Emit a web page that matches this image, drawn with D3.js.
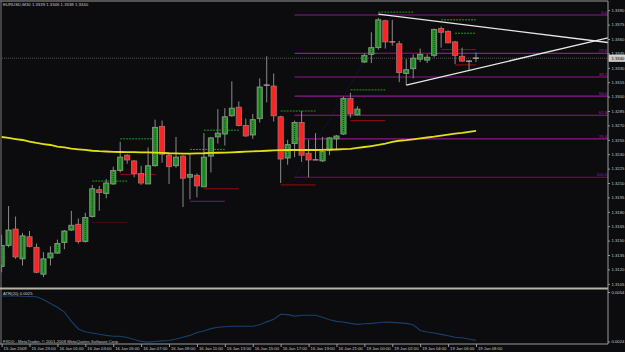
<!DOCTYPE html>
<html>
<head>
<meta charset="utf-8">
<script src="https://cdn.jsdelivr.net/npm/d3@7"></script>
<style>
body { margin: 0; background: #0c0c0f; }
svg { display: block; font-family: "Liberation Sans", Arial, sans-serif; }
</style>
</head>
<body>
<svg id="chart" width="625" height="352"></svg>
<script>
'use strict';

var HEADER = 'EURUSD,M30  1.3339 1.3346 1.3338 1.3340';
var ATR_TITLE = 'ATR(20) 0.0025';
var FOOTER = 'FXDD - MetaTrader, \u00a9 2001-2008 MetaQuotes Software Corp.';

var opens = [1.3123, 1.3145, 1.3162, 1.3131, 1.3154, 1.3143, 1.3115, 1.3132, 1.3137, 1.3148,
    1.3161, 1.3167, 1.3149, 1.3175, 1.3203, 1.3199, 1.3209, 1.3223, 1.3239, 1.3233,
    1.3220, 1.3209, 1.3228, 1.3269, 1.3239, 1.3228, 1.3238, 1.3216, 1.3218, 1.3206,
    1.3238, 1.3258, 1.3261, 1.3280, 1.3289, 1.3270, 1.3260, 1.3277, 1.3312, 1.3311,
    1.3279, 1.3236, 1.3251, 1.3273, 1.3241, 1.3235, 1.3233, 1.3244, 1.3256, 1.3261,
    1.3298, 1.3281, 1.3336, 1.3344, 1.3351, 1.3379, 1.3358, 1.3355, 1.3324, 1.3329,
    1.3339, 1.3338, 1.3343, 1.3371, 1.3368, 1.3357, 1.3342, 1.3337, 1.3339];
var highs = [1.3156, 1.3186, 1.3175, 1.3158, 1.3160, 1.3147, 1.3138, 1.3144, 1.3151, 1.3161,
    1.3181, 1.3173, 1.3179, 1.3208, 1.3207, 1.3214, 1.3227, 1.3253, 1.3240, 1.3234,
    1.3228, 1.3247, 1.3276, 1.3275, 1.3241, 1.3258, 1.3239, 1.3240, 1.3220, 1.3262,
    1.3258, 1.3287, 1.3288, 1.3316, 1.3295, 1.3277, 1.3282, 1.3319, 1.3342, 1.3324,
    1.3280, 1.3255, 1.3275, 1.3285, 1.3255, 1.3262, 1.3258, 1.3258, 1.3260, 1.3300,
    1.3304, 1.3290, 1.3345, 1.3367, 1.3382, 1.3380, 1.3380, 1.3358, 1.3339, 1.3344,
    1.3350, 1.3344, 1.3371, 1.3373, 1.3369, 1.3358, 1.3351, 1.3338, 1.3346];
var lows = [1.3117, 1.3143, 1.3131, 1.3124, 1.3143, 1.3116, 1.3112, 1.3124, 1.3136, 1.3141,
    1.3160, 1.3147, 1.3148, 1.3174, 1.3181, 1.3194, 1.3208, 1.3221, 1.3230, 1.3216,
    1.3208, 1.3209, 1.3227, 1.3231, 1.3209, 1.3226, 1.3185, 1.3193, 1.3195, 1.3206,
    1.3221, 1.3251, 1.3249, 1.3279, 1.3269, 1.3258, 1.3256, 1.3273, 1.3294, 1.3274,
    1.3210, 1.3229, 1.3237, 1.3232, 1.3216, 1.3234, 1.3232, 1.3239, 1.3245, 1.3260,
    1.3278, 1.3280, 1.3335, 1.3335, 1.3349, 1.3350, 1.3353, 1.3315, 1.3312, 1.3319,
    1.3336, 1.3335, 1.3341, 1.3351, 1.3356, 1.3334, 1.3336, 1.3327, 1.3336];
var closes = [1.3145, 1.3161, 1.3133, 1.3155, 1.3144, 1.3117, 1.3131, 1.3137, 1.3147, 1.3160,
    1.3166, 1.3149, 1.3174, 1.3204, 1.3200, 1.3210, 1.3223, 1.3237, 1.3234, 1.3220,
    1.3210, 1.3228, 1.3268, 1.3240, 1.3227, 1.3237, 1.3215, 1.3219, 1.3207, 1.3237,
    1.3257, 1.3262, 1.3279, 1.3288, 1.3270, 1.3259, 1.3276, 1.3310, 1.3312, 1.3280,
    1.3235, 1.3250, 1.3273, 1.3239, 1.3234, 1.3234, 1.3243, 1.3257, 1.3259, 1.3298,
    1.3282, 1.3287, 1.3343, 1.3351, 1.3380, 1.3357, 1.3357, 1.3325, 1.3328, 1.3340,
    1.3344, 1.3341, 1.3370, 1.3367, 1.3356, 1.3343, 1.3337, 1.3337, 1.3340];

var maValues = [1.32579, 1.32569, 1.32558, 1.32548, 1.32532, 1.32517, 1.32506, 1.32496, 1.32480, 1.32470,
    1.32459, 1.32451, 1.32444, 1.32436, 1.32431, 1.32428, 1.32425, 1.32423, 1.32422, 1.32421,
    1.32420, 1.32418, 1.32416, 1.32413, 1.32410, 1.32409, 1.32407, 1.32407, 1.32409, 1.32410,
    1.32413, 1.32415, 1.32417, 1.32420, 1.32423, 1.32426, 1.32430, 1.32433, 1.32436, 1.32440,
    1.32442, 1.32444, 1.32444, 1.32444, 1.32444, 1.32444, 1.32446, 1.32447, 1.32449, 1.32452,
    1.32456, 1.32465, 1.32475, 1.32485, 1.32496, 1.32509, 1.32529, 1.32540, 1.32546, 1.32555,
    1.32564, 1.32574, 1.32583, 1.32594, 1.32604, 1.32615, 1.32623, 1.32633, 1.32642];

var atrValues = [0.00516, 0.00516, 0.00516, 0.00514, 0.00513, 0.00511, 0.00495, 0.00470, 0.00448, 0.00418,
    0.00362, 0.00316, 0.00299, 0.00292, 0.00284, 0.00277, 0.00272, 0.00272, 0.00264, 0.00252,
    0.00241, 0.00236, 0.00240, 0.00244, 0.00246, 0.00255, 0.00266, 0.00277, 0.00295, 0.00304,
    0.00318, 0.00326, 0.00329, 0.00332, 0.00332, 0.00332, 0.00332, 0.00341, 0.00359, 0.00375,
    0.00405, 0.00403, 0.00394, 0.00399, 0.00399, 0.00399, 0.00387, 0.00372, 0.00362, 0.00358,
    0.00350, 0.00344, 0.00348, 0.00350, 0.00354, 0.00358, 0.00356, 0.00353, 0.00350, 0.00341,
    0.00307, 0.00298, 0.00292, 0.00283, 0.00275, 0.00266, 0.00263, 0.00255, 0.00247];

var timeLabels = ['15 Jan 2009', '15 Jan 23:00', '16 Jan 01:00', '16 Jan 03:00', '16 Jan 05:00',
    '16 Jan 07:00', '16 Jan 09:00', '16 Jan 11:00', '16 Jan 13:00', '16 Jan 15:00', '16 Jan 17:00',
    '16 Jan 19:00', '16 Jan 21:00', '19 Jan 00:00', '19 Jan 02:00', '19 Jan 04:00', '19 Jan 06:00',
    '19 Jan 08:00'];
var priceTicks = [1.3390, 1.3375, 1.3360, 1.3345, 1.3330, 1.3315, 1.3300, 1.3285, 1.3270, 1.3255,
    1.3240, 1.3225, 1.3210, 1.3195, 1.3180, 1.3165, 1.3150, 1.3135, 1.3120, 1.3105];
var atrTicks = [0.0054, 0.0024];

var fibLevels = [0.0, 23.6, 38.2, 50.0, 61.8, 76.4, 100.0];
var fibHigh = 1.3385;
var fibLow = 1.3216;
var fibFromBar = 42;
var fibToBar = 56;

// [fromBar, toBar, price, kind]
var levelLines = [
    [17, 22, 1.3256, 'hi'], [17, 22, 1.3219, 'lo'],
    [13, 18, 1.3212, 'hi'], [13, 18, 1.3169, 'lo2'],
    [29, 34, 1.3265, 'hi'], [29, 34, 1.3204, 'lo'],
    [27, 32, 1.3245, 'hi'], [27, 32, 1.3191, 'mid'],
    [40, 45, 1.3285, 'hi'], [40, 45, 1.3208, 'lo'],
    [50, 55, 1.3307, 'hi'], [50, 55, 1.3275, 'lo'],
    [54, 59, 1.3388, 'hi'], [54, 61, 1.3345, 'lo'],
    [63, 68, 1.3380, 'hi'], [65, 68, 1.3366, 'hi'],
    [63, 68, 1.3349, 'lo'], [65, 68, 1.3333, 'lo']
];

// [bar1, price1, bar2, price2], drawn as rays
var trendLines = [
    [54, 1.3386, 64, 1.3377],
    [58, 1.3312, 68, 1.3329]
];

var LINE_STYLE = {
    hi: { color: '#14a014', dash: '2,1' },
    lo: { color: '#9a0a0a', dash: null },
    lo2: { color: '#6e1a14', dash: '1,1' },
    mid: { color: '#7a107a', dash: null }
};

var plotRight = 608;
var mainBottom = 287.5;
var atrBottom = 344;

var svg = d3.select('#chart');
svg.append('rect').attr('width', 625).attr('height', 352).attr('fill', '#0c0c0f');

var x = d3.scaleLinear().domain([0, opens.length - 1]).range([1.6, 476]);
var y = d3.scaleLinear().domain([1.3105, 1.3390]).range([283.8, 10.2]);
var ya = d3.scaleLinear().domain([0.0024, 0.0054]).range([341.5, 292]);

svg.append('clipPath').attr('id', 'mainclip')
    .append('rect').attr('x', 1).attr('y', 1).attr('width', plotRight - 1).attr('height', mainBottom - 1);

var main = svg.append('g').attr('clip-path', 'url(#mainclip)');

// bid line
main.append('line')
    .attr('x1', 0).attr('x2', plotRight)
    .attr('y1', y(closes[closes.length - 1])).attr('y2', y(closes[closes.length - 1]))
    .attr('stroke', '#555').attr('stroke-dasharray', '1,1');

// fibonacci levels
var fibRange = fibHigh - fibLow;
main.selectAll('line.fib').data(fibLevels).enter().append('line')
    .attr('class', 'fib')
    .attr('x1', x(fibFromBar)).attr('x2', plotRight)
    .attr('y1', function(d){ return y(fibHigh - d / 100 * fibRange); })
    .attr('y2', function(d){ return y(fibHigh - d / 100 * fibRange); })
    .attr('stroke', function(d){ return d === 100 ? '#5a1292' : '#8e168e'; })
    .attr('stroke-width', 1.2);

main.append('line')
    .attr('x1', x(fibFromBar)).attr('y1', y(fibLow))
    .attr('x2', x(fibToBar)).attr('y2', y(fibHigh))
    .attr('stroke', '#2a1456').attr('stroke-dasharray', '1,1.5');

svg.selectAll('text.fib').data(fibLevels).enter().append('text')
    .attr('class', 'fib')
    .attr('x', plotRight - 1)
    .attr('y', function(d){ return y(fibHigh - d / 100 * fibRange) - 1; })
    .attr('text-anchor', 'end')
    .attr('font-size', 4.2)
    .attr('fill', function(d){ return d === 100 ? '#7a2ab0' : '#a02aa0'; })
    .text(function(d){ return d.toFixed(1); });

// short level lines
main.selectAll('line.lvl').data(levelLines).enter().append('line')
    .attr('class', 'lvl')
    .attr('x1', function(d){ return x(d[0]); })
    .attr('x2', function(d){ return x(d[1]); })
    .attr('y1', function(d){ return y(d[2]); })
    .attr('y2', function(d){ return y(d[2]); })
    .attr('stroke', function(d){ return LINE_STYLE[d[3]].color; })
    .attr('stroke-dasharray', function(d){ return LINE_STYLE[d[3]].dash; });

// candles
var bars = opens.map(function(o, i){
    return { i: i, o: o, h: highs[i], l: lows[i], c: closes[i] };
});
var candle = main.selectAll('g.bar').data(bars).enter().append('g').attr('class', 'bar');

candle.append('line')
    .attr('x1', function(d){ return x(d.i); })
    .attr('x2', function(d){ return x(d.i); })
    .attr('y1', function(d){ return y(d.h); })
    .attr('y2', function(d){ return y(d.l); })
    .attr('stroke', '#8a8a8a');

candle.each(function(d){
    var g = d3.select(this);
    var cx = x(d.i);
    var top = y(Math.max(d.o, d.c));
    var bot = y(Math.min(d.o, d.c));
    if (bot - top < 1.5) {
        g.append('line')
            .attr('x1', cx - 3).attr('x2', cx + 3)
            .attr('y1', y(d.c)).attr('y2', y(d.c))
            .attr('stroke', d.c < d.o ? '#d88a8a' : '#b0b0b0')
            .attr('stroke-width', 1.2);
        return;
    }
    var up = d.c > d.o;
    g.append('rect')
        .attr('x', cx - 2.6).attr('y', top)
        .attr('width', 5.2).attr('height', bot - top)
        .attr('fill', up ? '#2b962b' : '#fa2424')
        .attr('stroke', up ? '#8c9c8c' : '#b07070')
        .attr('stroke-width', 0.8);
    if (up && bot - top > 3) {
        g.append('line')
            .attr('x1', cx).attr('x2', cx)
            .attr('y1', top + 1.5).attr('y2', bot - 1.5)
            .attr('stroke', '#0d3a0d').attr('stroke-dasharray', '1,1');
    }
});

// moving average
main.append('path')
    .datum(maValues)
    .attr('fill', 'none')
    .attr('stroke', '#e2e010')
    .attr('stroke-width', 1.8)
    .attr('d', d3.line()
        .x(function(d, i){ return x(i); })
        .y(function(d){ return y(d); }));

// triangle rays
var rightBar = x.invert(plotRight);
main.selectAll('line.trend').data(trendLines).enter().append('line')
    .attr('class', 'trend')
    .attr('x1', function(d){ return x(d[0]); })
    .attr('y1', function(d){ return y(d[1]); })
    .attr('x2', plotRight)
    .attr('y2', function(d){
        var slope = (d[3] - d[1]) / (d[2] - d[0]);
        return y(d[1] + slope * (rightBar - d[0]));
    })
    .attr('stroke', '#e8e8e8')
    .attr('stroke-width', 1.3);

// frames
svg.append('line').attr('x1', 0).attr('x2', plotRight).attr('y1', 1).attr('y2', 1)
    .attr('stroke', '#9a9a9a');
svg.append('line').attr('x1', 1).attr('x2', 1).attr('y1', 1).attr('y2', atrBottom)
    .attr('stroke', '#7a7a7a');
svg.append('line').attr('x1', 0).attr('x2', plotRight).attr('y1', mainBottom + 1).attr('y2', mainBottom + 1)
    .attr('stroke', '#b4b4a8').attr('stroke-width', 2);
svg.append('line').attr('x1', plotRight).attr('x2', plotRight).attr('y1', 1).attr('y2', atrBottom)
    .attr('stroke', '#9a9a9a');

// price axis
var priceAxis = svg.append('g')
    .attr('transform', 'translate(' + plotRight + ',0)')
    .call(d3.axisRight(y).tickValues(priceTicks).tickSize(2).tickFormat(d3.format('.4f')));
priceAxis.select('.domain').remove();
priceAxis.selectAll('line').attr('stroke', '#9a9a9a');
priceAxis.selectAll('text').attr('fill', '#c4c4c4').attr('font-size', 4.2).attr('x', 3.5);

var last = closes[closes.length - 1];
svg.append('rect')
    .attr('x', plotRight + 1).attr('y', y(last) - 3.2)
    .attr('width', 16).attr('height', 6.4)
    .attr('fill', '#c8c8c8').attr('stroke', '#eee').attr('stroke-width', 0.6);
svg.append('text')
    .attr('x', plotRight + 3.5).attr('y', y(last) + 1.5)
    .attr('font-size', 4.2).attr('fill', '#000')
    .text(d3.format('.4f')(last));

// ATR window
svg.append('path')
    .datum(atrValues)
    .attr('fill', 'none')
    .attr('stroke', '#17406e')
    .attr('stroke-width', 1.1)
    .attr('d', d3.line()
        .x(function(d, i){ return x(i); })
        .y(function(d){ return ya(d); }));

var atrAxis = svg.append('g')
    .attr('transform', 'translate(' + plotRight + ',0)')
    .call(d3.axisRight(ya).tickValues(atrTicks).tickSize(2).tickFormat(d3.format('.4f')));
atrAxis.select('.domain').remove();
atrAxis.selectAll('line').attr('stroke', '#9a9a9a');
atrAxis.selectAll('text').attr('fill', '#c4c4c4').attr('font-size', 4.2).attr('x', 3.5);

// time axis
svg.append('line').attr('x1', 0).attr('x2', plotRight).attr('y1', atrBottom).attr('y2', atrBottom)
    .attr('stroke', '#9a9a9a');
var timeAxis = svg.append('g')
    .attr('transform', 'translate(0,' + atrBottom + ')')
    .call(d3.axisBottom(x).tickValues(d3.range(0, opens.length, 4)).tickSize(3)
        .tickFormat(function(d, i){ return timeLabels[i]; }));
timeAxis.select('.domain').remove();
timeAxis.selectAll('line').attr('stroke', '#9a9a9a');
timeAxis.selectAll('text')
    .attr('fill', '#c4c4c4').attr('font-size', 4.2)
    .attr('text-anchor', 'start').attr('x', 1.5).attr('y', 3).attr('dy', '0.71em');

// labels
svg.append('text').attr('x', 3).attr('y', 6.3)
    .attr('font-size', 4.3).attr('fill', '#c8c8c8').text(HEADER);
svg.append('text').attr('x', 3).attr('y', 294.5)
    .attr('font-size', 4.2).attr('fill', '#c8c8c8').text(ATR_TITLE);
svg.append('text').attr('x', 3).attr('y', 342.6)
    .attr('font-size', 4.2).attr('fill', '#c0c0c0').text(FOOTER);
</script>
</body>
</html>
